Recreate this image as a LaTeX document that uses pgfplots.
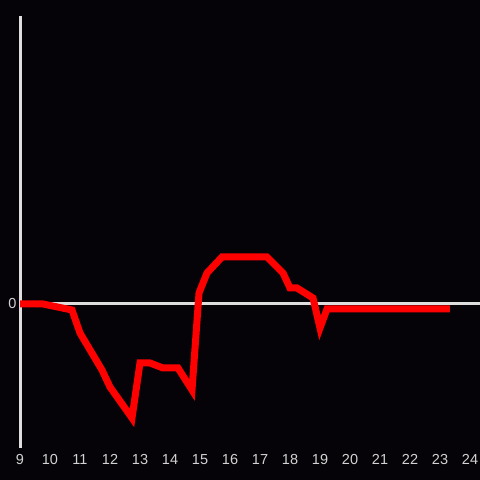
\documentclass[border=0pt]{standalone}
\usepackage{pgfplots}
\pgfplotsset{compat=1.18}
\usepackage{fontspec}
\setmainfont{Liberation Sans}
\definecolor{bg}{HTML}{050307}
\definecolor{axisgray}{HTML}{DEDEDE}
\definecolor{labelgray}{HTML}{D2D2D2}
\definecolor{linered}{HTML}{FF0000}
\begin{document}
\begin{tikzpicture}
\fill[bg] (0,0) rectangle (480bp,480bp);
\useasboundingbox (0,0) rectangle (480bp,480bp);
\begin{axis}[
  at={(20bp,32bp)}, anchor=south west,
  width=460bp, height=432bp, scale only axis,
  xmin=9, xmax=24.3333, ymin=-144, ymax=288,
  axis lines*=left,
  x axis line style={draw=none},
  y axis line style={draw=axisgray, line width=3bp},
  xtick={9,10,...,24}, ytick={0},
  major tick length=0pt,
  /pgf/number format/assume math mode=true,
  tick label style={font=\fontsize{14.5bp}{16bp}\selectfont, text=labelgray},
  xticklabel style={yshift=-3bp},
  ymajorgrids,
  major grid style={draw=axisgray, line width=3bp},
  clip=false,
]
\addplot[linered, line width=7bp, line join=miter] coordinates {
(9,0) (9.767,0) (10.733,-6) (11.0,-29) (11.733,-66) (12.0,-83) (12.733,-114)
(13.0,-59) (13.333,-59) (13.767,-64) (14.267,-64) (14.733,-86) (14.967,11)
(15.233,31) (15.733,47) (17.233,47) (17.767,31) (18.0,16) (18.233,16)
(18.767,6) (19.0,-24) (19.233,-5) (23.333,-5)
};
\end{axis}
\end{tikzpicture}
\end{document}
